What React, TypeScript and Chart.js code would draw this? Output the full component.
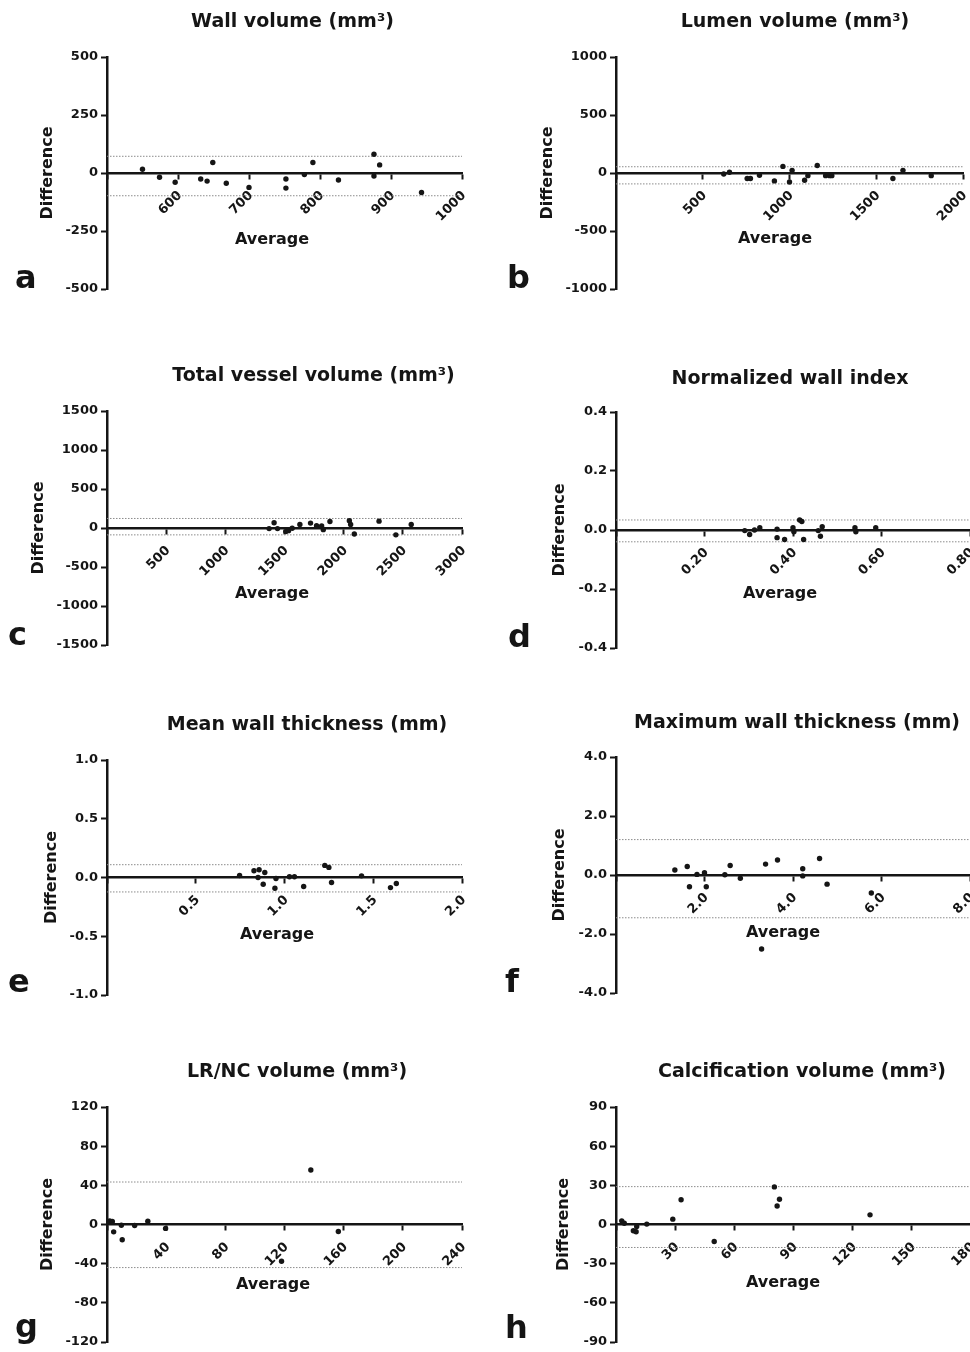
import React, { useEffect, useRef } from 'react';
import { Chart, registerables } from 'chart.js';

Chart.register(...registerables);

const FONT = '"DejaVu Sans", "Liberation Sans", Arial, sans-serif';
const INK = '#151515';
const DOT_GREY = '#8c8c8c';

// ---------- data ----------
// a: Wall volume
const wallAvg = [550, 574, 596, 632, 641, 649, 668, 700, 752, 752, 778, 790, 826, 876, 876, 884, 943];
const wallDiff = [16, -18, -40, -26, -35, 45, -44, -62, -26, -65, -7, 45, -30, 81, -13, 35, -84];
const wallLimits = [72, -98];

// b: Lumen volume
const lumenAvg = [621, 654, 756, 775, 827, 913, 962, 1000, 1015, 1087, 1106, 1160, 1208, 1231, 1244, 1596, 1654, 1817];
const lumenDiff = [-9, 6, -48, -48, -20, -68, 57, -77, 23, -62, -23, 65, -23, -23, -23, -48, 23, -23];
const lumenLimits = [54, -94];

// c: Total vessel volume
const vesselAvg = [1370, 1412, 1441, 1511, 1534, 1565, 1630, 1720, 1771, 1814, 1828, 1884, 2048, 2059, 2090, 2299, 2441, 2571];
const vesselDiff = [-8, 67, -8, -46, -34, -4, 46, 63, 29, 25, -21, 84, 92, 46, -76, 88, -88, 46];
const vesselLimits = [122, -88];

// d: Normalized wall index
const nwiAvg = [0.291, 0.302, 0.313, 0.325, 0.364, 0.364, 0.381, 0.4, 0.402, 0.415, 0.42, 0.424, 0.457, 0.462, 0.466, 0.54, 0.542, 0.587];
const nwiDiff = [-0.002, -0.015, 0, 0.008, 0.003, -0.026, -0.032, 0.008, -0.006, 0.034, 0.029, -0.032, -0.002, -0.021, 0.011, 0.008, -0.006, 0.008];
const nwiLimits = [0.034, -0.04];

// e: Mean wall thickness
const meanWtAvg = [0.747, 0.828, 0.857, 0.889, 0.851, 0.88, 0.952, 0.946, 1.028, 1.056, 1.108, 1.227, 1.25, 1.265, 1.434, 1.597, 1.63];
const meanWtDiff = [0.017, 0.057, 0.066, 0.043, 0, -0.057, -0.009, -0.091, 0.006, 0.006, -0.077, 0.103, 0.086, -0.043, 0.014, -0.086, -0.051];
const meanWtLimits = [0.109, -0.123];

// f: Maximum wall thickness
const maxWtAvg = [1.33, 1.61, 1.66, 1.83, 2.0, 2.04, 2.46, 2.58, 2.81, 3.29, 3.38, 3.65, 4.22, 4.22, 4.6, 4.77, 5.77];
const maxWtDiff = [0.17, 0.29, -0.4, 0.02, 0.08, -0.4, 0.01, 0.32, -0.11, -2.51, 0.37, 0.51, 0.21, -0.03, 0.56, -0.31, -0.61];
const maxWtLimits = [1.2, -1.45];

// g: LR/NC volume
const lrncAvg = [1.8, 3.6, 4.5, 10.3, 9.7, 18.7, 27.6, 39.6, 118, 137.8, 156.4];
const lrncDiff = [3.7, 3.0, -7.5, -15.6, -0.7, -1.0, 3.4, -4.0, -37.6, 55.6, -7.1];
const lrncLimits = [43.4, -44];

// h: Calcification volume
const calcAvg = [2.9, 4.2, 8.8, 10.2, 10.5, 15.6, 28.8, 33.0, 49.8, 80.3, 82.9, 81.7, 128.8];
const calcDiff = [2.8, 1.0, -4.8, -5.6, -1.5, 0.3, 4.1, 19.0, -13.0, 28.8, 19.3, 14.2, 7.4];
const calcLimits = [29, -17.6];

const panelTitles = [
  'Wall volume (mm³)',
  'Lumen volume (mm³)',
  'Total vessel volume (mm³)',
  'Normalized wall index',
  'Mean wall thickness (mm)',
  'Maximum wall thickness (mm)',
  'LR/NC volume (mm³)',
  'Calcification volume (mm³)',
];
const panelLetters = ['a', 'b', 'c', 'd', 'e', 'f', 'g', 'h'];
const yAxisTitle = 'Difference';
const xAxisTitle = 'Average';

// axis ranges: [min, max, step, decimals]
const xAxes = [
  [500, 1000, 100, 0],
  [0, 2000, 500, 0],
  [0, 3000, 500, 0],
  [0, 0.8, 0.2, 2],
  [0, 2, 0.5, 1],
  [0, 8, 2, 1],
  [0, 240, 40, 0],
  [0, 180, 30, 0],
];
const yAxes = [
  [-500, 500, 250, 0],
  [-1000, 1000, 500, 0],
  [-1500, 1500, 500, 0],
  [-0.4, 0.4, 0.2, 1],
  [-1, 1, 0.5, 1],
  [-4, 4, 2, 1],
  [-120, 120, 40, 0],
  [-90, 90, 30, 0],
];

const seriesAvg = [wallAvg, lumenAvg, vesselAvg, nwiAvg, meanWtAvg, maxWtAvg, lrncAvg, calcAvg];
const seriesDiff = [wallDiff, lumenDiff, vesselDiff, nwiDiff, meanWtDiff, maxWtDiff, lrncDiff, calcDiff];
const seriesLimits = [wallLimits, lumenLimits, vesselLimits, nwiLimits, meanWtLimits, maxWtLimits, lrncLimits, calcLimits];

// ---------- layout (page pixels) ----------
const CANVAS_H = 350;
type Layout = {
  canvas: [number, number, number]; // left, top, width
  area: [number, number, number, number]; // left, top, right, bottom
  yTitleX: number;
  titleXY: [number, number];
  letterXY: [number, number];
  avgXY: [number, number];
};
const layouts: Layout[] = [
  { canvas: [0, 0, 485], area: [107, 57, 462, 289], yTitleX: 48, titleXY: [292.5, 27], letterXY: [15, 288], avgXY: [272, 240] },
  { canvas: [485, 0, 490], area: [616, 57, 963, 289], yTitleX: 548, titleXY: [795, 27], letterXY: [507, 288], avgXY: [775, 239] },
  { canvas: [0, 350, 485], area: [107, 411, 462, 645], yTitleX: 39, titleXY: [313.5, 381], letterXY: [8, 645], avgXY: [272, 594] },
  { canvas: [485, 350, 490], area: [616, 412, 970, 648], yTitleX: 560, titleXY: [790, 384], letterXY: [508, 647], avgXY: [780, 594] },
  { canvas: [0, 700, 485], area: [107, 760, 462, 995], yTitleX: 52, titleXY: [307, 730], letterXY: [8, 992], avgXY: [277, 935] },
  { canvas: [485, 700, 490], area: [616, 757, 970, 993], yTitleX: 560, titleXY: [797, 728], letterXY: [505, 992], avgXY: [783, 933] },
  { canvas: [0, 1050, 485], area: [107, 1107, 462, 1342], yTitleX: 48, titleXY: [297, 1077], letterXY: [15, 1337], avgXY: [273, 1285] },
  { canvas: [485, 1050, 490], area: [616, 1107, 971, 1342], yTitleX: 564, titleXY: [802, 1077], letterXY: [505, 1338], avgXY: [783, 1283] },
];

const TICK_FONT = { family: FONT, size: 13, weight: 'bold' as const };
const AXIS_TITLE_SIZE = 16;

const panelText = {
  id: 'panelText',
  afterDraw(chart: any, _args: any, o: any) {
    const ctx = chart.ctx;
    ctx.save();
    ctx.fillStyle = INK;
    ctx.textAlign = 'center';
    ctx.textBaseline = 'alphabetic';
    ctx.font = `bold 19px ${FONT}`;
    ctx.fillText(o.text, o.tx, o.ty);
    ctx.font = `bold ${AXIS_TITLE_SIZE}px ${FONT}`;
    ctx.textBaseline = 'middle';
    ctx.fillText(o.xText, o.ax, o.ay);
    ctx.textAlign = 'left';
    ctx.textBaseline = 'alphabetic';
    ctx.font = `bold 32px ${FONT}`;
    ctx.fillText(o.letter, o.lx, o.ly);
    ctx.restore();
  },
};

function buildConfig(i: number): any {
  const L = layouts[i];
  const [cl, ct, cw] = L.canvas;
  const [al, at, ar, ab] = L.area;
  const [xMin, xMax, xStep, xDec] = xAxes[i];
  const [yMin, yMax, yStep, yDec] = yAxes[i];
  const avg = seriesAvg[i];
  const diff = seriesDiff[i];
  const [upper, lower] = seriesLimits[i];
  const yTitleLH = AXIS_TITLE_SIZE * 1.2;

  const limitLine = (v: number) => ({
    data: [
      { x: xMin, y: v },
      { x: xMax, y: v },
    ],
    showLine: true,
    borderColor: DOT_GREY,
    borderWidth: 1,
    borderDash: [1.5, 1.5],
    pointRadius: 0,
    fill: false,
    order: 1,
  });

  return {
    type: 'scatter',
    data: {
      datasets: [
        {
          data: avg.map((x, k) => ({ x, y: diff[k] })),
          backgroundColor: INK,
          borderColor: INK,
          borderWidth: 0,
          pointRadius: 2.7,
          order: 0,
        },
        limitLine(upper),
        limitLine(lower),
      ],
    },
    options: {
      animation: false,
      responsive: false,
      events: [],
      layout: {
        padding: {
          left: 0,
          top: at - ct,
          right: cl + cw - ar,
          bottom: ct + CANVAS_H - ab,
        },
      },
      plugins: {
        legend: { display: false },
        tooltip: { enabled: false },
        panelText: {
          text: panelTitles[i],
          tx: L.titleXY[0] - cl,
          ty: L.titleXY[1] - ct,
          xText: xAxisTitle,
          ax: L.avgXY[0] - cl,
          ay: L.avgXY[1] - ct,
          letter: panelLetters[i],
          lx: L.letterXY[0] - cl,
          ly: L.letterXY[1] - ct,
        },
      },
      scales: {
        x: {
          type: 'linear',
          position: { y: 0 },
          min: xMin,
          max: xMax,
          ticks: {
            stepSize: xStep,
            autoSkip: false,
            minRotation: 45,
            maxRotation: 45,
            labelOffset: 2,
            padding: 10,
            color: INK,
            font: TICK_FONT,
            callback: (v: number) => (Math.abs(v - xMin) < 1e-9 ? '' : Number(v).toFixed(xDec)),
          },
          grid: {
            display: true,
            drawOnChartArea: false,
            drawTicks: true,
            tickLength: 5,
            tickWidth: 2,
            tickColor: INK,
            color: INK,
          },
          border: { display: true, color: INK, width: 2.5 },
          afterFit: (s: any) => {
            s.paddingLeft = 0;
            s.paddingRight = 0;
            s.paddingTop = 0;
            s.paddingBottom = 0;
          },
        },
        y: {
          type: 'linear',
          position: 'left',
          min: yMin,
          max: yMax,
          ticks: {
            stepSize: yStep,
            autoSkip: false,
            padding: 3,
            color: INK,
            font: TICK_FONT,
            callback: (v: number) => Number(v).toFixed(yDec),
          },
          grid: {
            display: true,
            drawOnChartArea: false,
            drawTicks: true,
            tickLength: 6,
            tickWidth: 2,
            tickColor: INK,
            color: INK,
          },
          border: { display: true, color: INK, width: 2.5 },
          title: {
            display: true,
            text: yAxisTitle,
            color: INK,
            font: { family: FONT, size: AXIS_TITLE_SIZE, weight: 'bold', lineHeight: 1.2 },
            padding: { top: L.yTitleX - cl - yTitleLH / 2, bottom: 0 },
          },
          afterFit: (s: any) => {
            s.width = al - cl;
            s.paddingTop = 0;
            s.paddingBottom = 0;
            s.paddingLeft = 0;
            s.paddingRight = 0;
          },
        },
      },
    },
    plugins: [panelText],
  };
}

function Panel({ index }: { index: number }) {
  const ref = useRef<HTMLCanvasElement | null>(null);
  const [cl, ct, cw] = layouts[index].canvas;
  useEffect(() => {
    if (!ref.current) return;
    const chart = new Chart(ref.current, buildConfig(index));
    return () => chart.destroy();
  }, [index]);
  return (
    <canvas
      ref={ref}
      width={cw}
      height={CANVAS_H}
      style={{ position: 'absolute', left: cl, top: ct, width: cw, height: CANVAS_H }}
    />
  );
}

export default function App() {
  return (
    <div
      style={{
        position: 'absolute',
        left: 0,
        top: 0,
        width: 970,
        height: 1352,
        overflow: 'hidden',
        background: '#ffffff',
      }}
    >
      {layouts.map((_, i) => (
        <Panel key={i} index={i} />
      ))}
    </div>
  );
}
